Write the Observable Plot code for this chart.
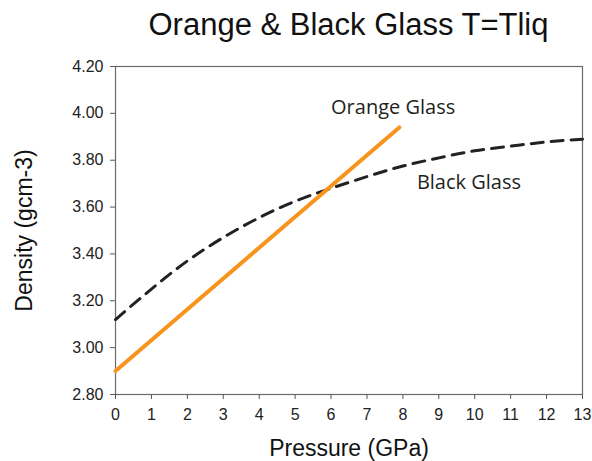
<!DOCTYPE html>
<html>
<head>
<meta charset="utf-8">
<script src="https://cdn.jsdelivr.net/npm/d3@7"></script>
<script src="https://cdn.jsdelivr.net/npm/@observablehq/plot@0.6"></script>
<style>
  html, body { margin: 0; padding: 0; background: #ffffff; }
  #wrap { width: 592px; height: 461px; position: relative; overflow: hidden; }
  #title {
    width: 592px; height: 46px; box-sizing: border-box;
    padding-left: 115px; padding-right: 10px;
    text-align: center; font-family: "Liberation Sans", Arial, sans-serif;
    font-size: 31px; line-height: 50px; color: #111; white-space: nowrap;
  }
  svg { display: block; }
</style>
</head>
<body>
<div id="wrap">
  <div id="title">Orange &amp; Black Glass T=Tliq</div>
  <div id="chart"></div>
</div>
<script>
// Data
const titleText = "Orange & Black Glass T=Tliq";
const xTitle = "Pressure (GPa)";
const yTitle = "Density (gcm-3)";

const blackPressure = [0, 1, 2, 3, 4, 5, 6, 7, 8, 9, 10, 11, 12, 13];
const blackDensity  = [3.12, 3.25, 3.37, 3.47, 3.555, 3.625, 3.68, 3.73, 3.775, 3.81, 3.84, 3.86, 3.878, 3.89];

const orangePressure = [0, 7.9];
const orangeDensity  = [2.90, 3.94];

const xTicks = [0, 1, 2, 3, 4, 5, 6, 7, 8, 9, 10, 11, 12, 13];
const yTicks = [2.8, 3.0, 3.2, 3.4, 3.6, 3.8, 4.0, 4.2];

const seriesLabels = ["Orange Glass", "Black Glass"];
const labelPressure = [6.0, 8.39];
const labelDensity = [4.024, 3.704];

const black = blackPressure.map((p, i) => ({p, d: blackDensity[i]}));
const orange = orangePressure.map((p, i) => ({p, d: orangeDensity[i]}));
const labels = seriesLabels.map((t, i) => ({t, p: labelPressure[i], d: labelDensity[i]}));

const axisFont = "'Liberation Sans', Arial, sans-serif";

const chart = Plot.plot({
  width: 592,
  height: 415,
  marginTop: 20,
  marginBottom: 67,
  marginLeft: 115,
  marginRight: 10,
  style: { background: "#ffffff", fontFamily: axisFont, color: "#222" },
  x: { domain: [0, 13], label: null },
  y: { domain: [2.8, 4.2], label: null },
  marks: [
    Plot.frame({ stroke: "#6a6a6a", strokeWidth: 1.2 }),
    Plot.axisX({ ticks: xTicks, tickSize: 5, tickPadding: 9, fontSize: 16, label: null, stroke: "#555", tickFormat: d3.format("d") }),
    Plot.axisY({ ticks: yTicks, tickSize: 5, tickPadding: 7, fontSize: 16, label: null, stroke: "#555", tickFormat: d3.format(".2f") }),
    Plot.line(black, { x: "p", y: "d", stroke: "#222", strokeWidth: 3, strokeDasharray: "12,8", curve: "natural" }),
    Plot.line(orange, { x: "p", y: "d", stroke: "#f7941d", strokeWidth: 4 }),
    Plot.text(labels, { x: "p", y: "d", text: "t", textAnchor: "start", fontSize: 20, fontFamily: "'Open Sans', sans-serif", fill: "#231f20" }),
    Plot.text([yTitle], { text: d => d, frameAnchor: "left", textAnchor: "middle", lineAnchor: "middle", rotate: -90, dx: -91, fontSize: 23, fill: "#111" }),
    Plot.text([xTitle], { text: d => d, frameAnchor: "bottom", textAnchor: "middle", lineAnchor: "middle", dy: 54, fontSize: 23, fill: "#111" })
  ]
});
document.getElementById("chart").appendChild(chart);
</script>
</body>
</html>
